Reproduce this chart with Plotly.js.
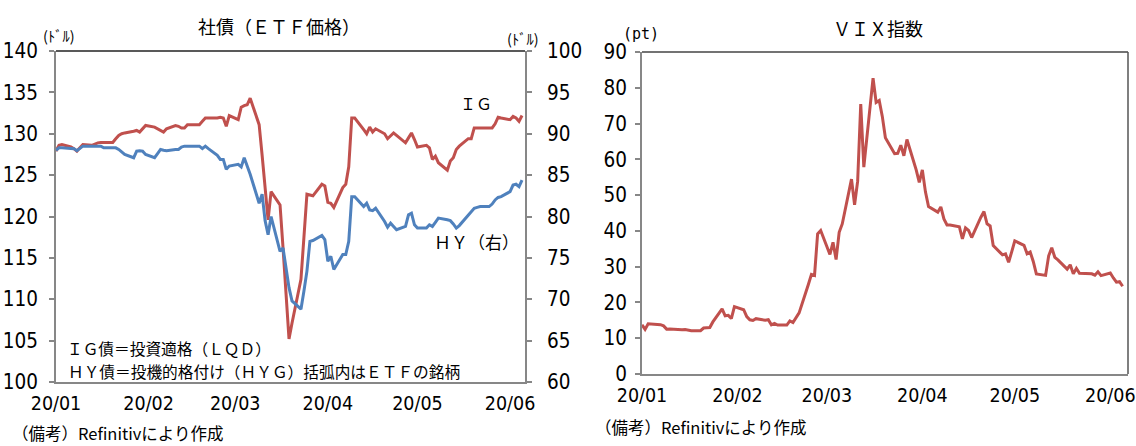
<!DOCTYPE html>
<html>
<head>
<meta charset="utf-8">
<script src="https://cdn.plot.ly/plotly-3.0.1.min.js"></script>
<style>html,body{margin:0;padding:0;background:#fff;}#chart{width:1136px;height:446px;}</style>
</head>
<body>
<div id="chart"></div>
<script>
// ---- data ----
const dates = [
 '2020-01-01','2020-01-02','2020-01-03','2020-01-06','2020-01-07','2020-01-08','2020-01-09','2020-01-10','2020-01-13','2020-01-14','2020-01-15','2020-01-16','2020-01-17','2020-01-20','2020-01-21','2020-01-22','2020-01-23','2020-01-24','2020-01-27','2020-01-28','2020-01-29','2020-01-30','2020-01-31',
 '2020-02-03','2020-02-04','2020-02-05','2020-02-06','2020-02-07','2020-02-10','2020-02-11','2020-02-12','2020-02-13','2020-02-14','2020-02-17','2020-02-18','2020-02-19','2020-02-20','2020-02-21','2020-02-24','2020-02-25','2020-02-26','2020-02-27','2020-02-28',
 '2020-03-02','2020-03-03','2020-03-04','2020-03-05','2020-03-06','2020-03-09','2020-03-10','2020-03-11','2020-03-12','2020-03-13','2020-03-16','2020-03-17','2020-03-18','2020-03-19','2020-03-20','2020-03-23','2020-03-24','2020-03-25','2020-03-26','2020-03-27','2020-03-30','2020-03-31',
 '2020-04-01','2020-04-02','2020-04-03','2020-04-06','2020-04-07','2020-04-08','2020-04-09','2020-04-10','2020-04-13','2020-04-14','2020-04-15','2020-04-16','2020-04-17','2020-04-20','2020-04-21','2020-04-22','2020-04-23','2020-04-24','2020-04-27','2020-04-28','2020-04-29','2020-04-30',
 '2020-05-01','2020-05-04','2020-05-05','2020-05-06','2020-05-07','2020-05-08','2020-05-11','2020-05-12','2020-05-13','2020-05-14','2020-05-15','2020-05-18','2020-05-19','2020-05-20','2020-05-21','2020-05-22','2020-05-25','2020-05-26','2020-05-27','2020-05-28','2020-05-29',
 '2020-06-01','2020-06-02','2020-06-03','2020-06-04','2020-06-05'
];
// IG (LQD, left axis, dollars)
const ig = [
 127.9,128.6,128.7,128.4,128.2,127.9,128.3,128.7,128.6,128.8,128.9,128.95,128.95,128.95,129.4,129.8,130.0,130.1,130.3,130.4,130.2,130.6,131.0,
 130.8,130.6,130.3,130.2,130.6,131.0,130.9,130.7,130.7,131.1,131.1,131.1,131.5,131.9,131.9,131.9,132.0,131.9,130.9,132.2,
 131.7,133.2,133.4,133.5,134.3,131.1,127.4,123.7,119.6,123.0,121.4,116.2,110.7,105.2,107.1,112.4,117.5,122.7,122.6,122.5,123.9,123.7,
 121.7,121.6,121.1,123.5,123.9,126.0,131.9,131.9,130.5,130.0,130.8,130.2,130.6,130.0,129.4,129.8,130.1,129.8,128.9,129.5,130.1,129.3,
 128.4,128.6,128.3,126.9,127.3,126.5,125.6,126.7,127.1,128.1,128.5,129.4,129.4,130.7,130.7,130.7,130.7,130.7,131.2,132.0,131.9,
 131.7,132.1,131.9,131.5,132.2
];
// HY (HYG, right axis, dollars)
const hy = [
 88.0,88.3,88.3,88.2,88.2,87.95,88.2,88.5,88.5,88.5,88.5,88.5,88.3,88.3,88.3,88.1,87.8,87.5,87.1,87.9,87.95,87.9,87.5,
 87.1,87.6,88.1,88.0,87.95,88.1,88.1,88.4,88.5,88.5,88.5,88.5,88.2,88.5,88.2,87.4,86.9,86.9,85.7,86.1,
 86.3,86.0,87.1,86.2,85.1,81.6,82.7,79.5,77.8,80.0,75.8,76.2,73.5,71.4,69.8,68.8,71.0,73.4,77.0,77.1,77.7,77.2,
 74.6,75.2,73.6,75.4,75.4,77.0,82.4,82.4,81.2,81.6,80.8,80.7,81.0,79.4,78.7,79.2,78.8,78.4,78.8,80.2,80.4,79.0,
 78.6,78.6,79.0,78.8,79.3,79.8,79.6,79.5,79.1,78.6,78.9,80.2,80.5,81.0,81.1,81.2,81.2,81.5,82.0,82.3,82.4,
 83.0,83.8,83.9,83.6,84.4
];
// VIX (pt)
const vix = [
 13.78,12.47,14.02,13.85,13.79,13.45,12.54,12.56,12.32,12.39,12.42,12.32,12.10,12.10,12.85,12.91,12.98,14.56,18.23,16.28,16.39,15.49,18.84,
 17.97,16.05,15.15,14.96,15.47,15.04,15.18,13.74,14.15,13.68,13.68,14.83,14.38,15.56,17.08,25.03,27.85,27.56,39.16,40.11,
 33.42,36.82,31.99,39.62,41.94,54.46,47.30,53.90,75.47,57.83,82.69,75.91,76.45,72.00,66.04,61.59,61.67,63.95,61.00,65.54,57.08,53.54,
 57.06,50.91,46.80,45.24,46.70,43.35,41.67,41.67,41.17,37.76,40.84,40.11,38.15,43.83,45.41,41.98,41.38,35.93,33.29,33.57,31.23,34.15,
 37.19,35.97,33.61,34.12,31.44,27.98,27.57,33.04,35.28,32.61,31.89,29.30,30.53,27.99,29.53,28.16,28.16,28.01,27.62,28.59,27.51,
 28.23,26.84,25.66,25.81,24.52
];
const monthTicks = ['2020-01-01','2020-02-01','2020-03-01','2020-04-01','2020-05-01','2020-06-01'];
const monthLabels = ['20/01','20/02','20/03','20/04','20/05','20/06'];

// ---- layout ----
const W = 1136, H = 446;
const fx = x => x / W;
const fy = y => 1 - y / H;
const numFont = {family: "'Liberation Sans Narrow','DejaVu Sans Condensed',sans-serif", size: 20.5, color: '#000'};
const xFont = {family: "'Liberation Sans Narrow','DejaVu Sans Condensed',sans-serif", size: 19.5, color: '#000'};
const jp = "'Noto Sans CJK JP','Noto Sans',sans-serif";
const axisGray = '#878787';

const baseX = {
  type: 'date', tickmode: 'array', tickvals: monthTicks, ticktext: monthLabels,
  showline: true, linecolor: axisGray, linewidth: 2, ticks: '', showgrid: false, zeroline: false,
  tickfont: xFont, ticklabelstandoff: 3, ticklabeloverflow: 'allow', fixedrange: true
};
const baseY = {
  showline: true, linecolor: axisGray, linewidth: 2, ticks: 'outside', ticklen: 5, tickwidth: 2,
  tickcolor: axisGray, showgrid: false, zeroline: false, tickfont: numFont, ticklabeloverflow: 'allow', fixedrange: true
};

const traces = [
  {x: dates, y: ig, xaxis: 'x', yaxis: 'y', type: 'scatter', mode: 'lines', line: {color: '#C0504D', width: 3}, name: 'IG'},
  {x: dates, y: hy, xaxis: 'x', yaxis: 'y2', type: 'scatter', mode: 'lines', line: {color: '#4F81BD', width: 3}, name: 'HY'},
  {x: dates, y: vix, xaxis: 'x2', yaxis: 'y3', type: 'scatter', mode: 'lines', line: {color: '#C0504D', width: 3}, name: 'VIX'}
];

function ann(text, x, y, size, xanchor, extra) {
  return Object.assign({text: text, xref: 'paper', yref: 'paper', x: fx(x), y: fy(y), xanchor: xanchor || 'center', yanchor: 'middle',
    showarrow: false, font: {family: jp, size: size, color: '#000'}}, extra || {});
}

const layout = {
  width: W, height: H, margin: {l: 0, r: 0, t: 0, b: 0}, paper_bgcolor: '#fff', plot_bgcolor: '#fff', showlegend: false,
  xaxis: Object.assign({}, baseX, {domain: [fx(56), fx(525)], range: ['2020-01-01', '2020-06-06'], anchor: 'y'}),
  yaxis: Object.assign({}, baseY, {domain: [fy(382), fy(51)], range: [100, 140], tick0: 100, dtick: 5, anchor: 'x', ticklabelstandoff: 7}),
  yaxis2: Object.assign({}, baseY, {overlaying: 'y', side: 'right', range: [60, 100], tick0: 60, dtick: 5, anchor: 'x', ticklabelstandoff: 11}),
  xaxis2: Object.assign({}, baseX, {domain: [fx(642), fx(1128)], range: ['2020-01-01', '2020-06-06 18:00'], anchor: 'y3'}),
  yaxis3: Object.assign({}, baseY, {domain: [fy(374), fy(52)], range: [0, 90], tick0: 0, dtick: 10, anchor: 'x2', ticklabelstandoff: 4}),
  shapes: [
    {type: 'line', xref: 'paper', yref: 'paper', x0: fx(56), x1: fx(525), y0: fy(51), y1: fy(51), line: {color: '#222', width: 1.5}},
    {type: 'line', xref: 'paper', yref: 'paper', x0: fx(642), x1: fx(1128), y0: fy(52), y1: fy(52), line: {color: '#444', width: 1.5}},
    {type: 'line', xref: 'paper', yref: 'paper', x0: fx(1128), x1: fx(1128), y0: fy(52), y1: fy(374), line: {color: '#555', width: 1.5}}
  ],
  annotations: [
    ann('社債（ＥＴＦ価格）', 279, 26, 18),
    ann('ＶＩＸ指数', 878, 28, 18),
    ann('(ﾄﾞﾙ)', 59, 35, 14.5),
    ann('(ﾄﾞﾙ)', 523, 38, 14.5),
    ann('(pt)', 641, 34, 15, 'center', {font: {family: "'DejaVu Sans Mono',monospace", size: 15, color: '#000'}}),
    ann('ＩＧ', 476, 103, 16),
    ann('ＨＹ（右）', 432, 241, 17, 'left'),
    ann('ＩＧ債＝投資適格（ＬＱＤ）', 65, 348, 15.7, 'left'),
    ann('ＨＹ債＝投機的格付け（ＨＹＧ）括弧内はＥＴＦの銘柄', 66, 371, 15.7, 'left'),
    ann('（備考）Refinitivにより作成', 10, 433, 16.5, 'left'),
    ann('（備考）Refinitivにより作成', 593, 427, 16.5, 'left')
  ]
};

Plotly.newPlot('chart', traces, layout, {displayModeBar: false, staticPlot: true});
</script>
</body>
</html>
